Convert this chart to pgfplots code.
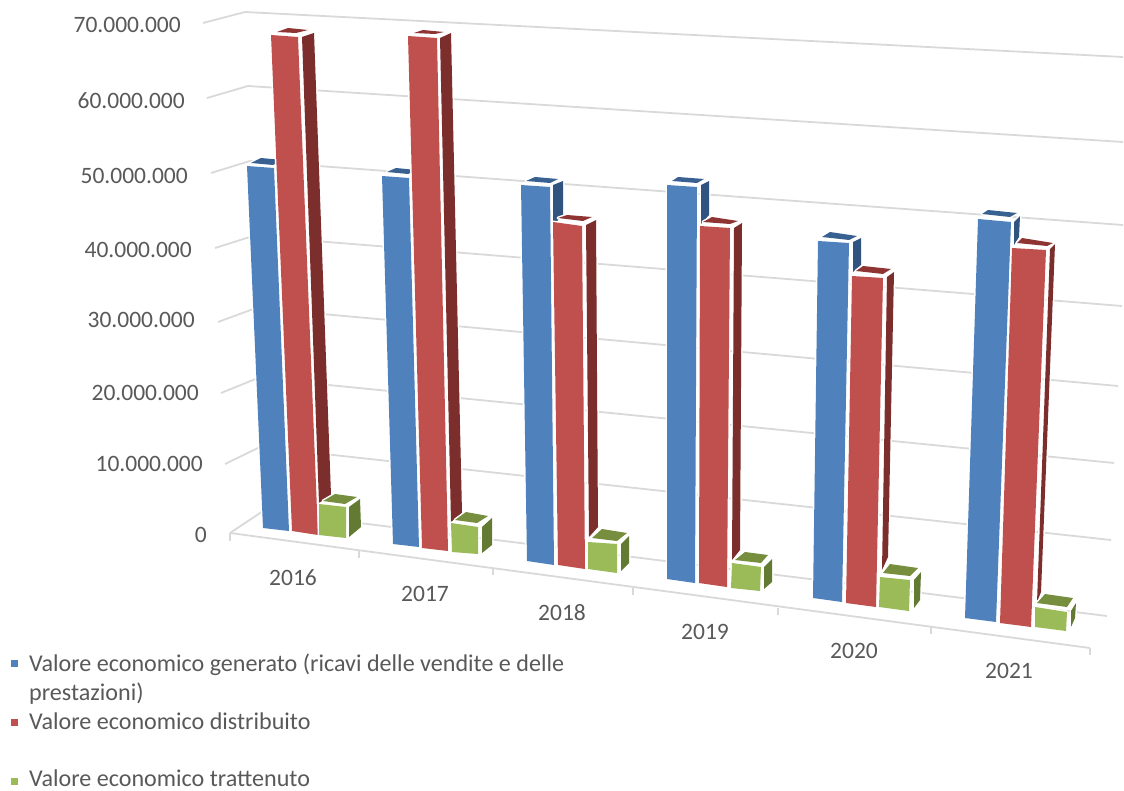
\documentclass[border=0pt]{standalone}
\usepackage{pgfplots}
\pgfplotsset{compat=1.18}
\usepackage{fontspec}
\setmainfont{Carlito}
\definecolor{grid}{HTML}{D9D9D9}
\definecolor{txt}{HTML}{595959}
\definecolor{bF}{HTML}{4F81BD}\definecolor{bT}{HTML}{386192}\definecolor{bS}{HTML}{30547F}
\definecolor{rF}{HTML}{C0504D}\definecolor{rT}{HTML}{8E3533}\definecolor{rS}{HTML}{7C2E2C}
\definecolor{gF}{HTML}{9BBB59}\definecolor{gT}{HTML}{768E3E}\definecolor{gS}{HTML}{637A33}
\newcommand{\tf}{\fontsize{23.5}{28}\selectfont}
\newcommand{\lf}{\fontsize{24.1}{28}\selectfont}
\newcommand{\face}[2]{\addplot[fill=white,draw=white,line width=3pt,line join=round] coordinates {#2} --cycle;
  \addplot[fill=#1,draw=none] coordinates {#2} --cycle;}
\newcommand{\gl}[1]{\addplot[draw=grid,line width=1.8pt] coordinates {#1};}
\newcommand{\ytl}[3]{\node[anchor=base east,text=txt,inner sep=0pt] at (axis cs:#1,#2) {\tf #3};}
\newcommand{\xtl}[3]{\node[anchor=base,text=txt,inner sep=0pt] at (axis cs:#1,#2) {\tf #3};}
\newcommand{\lgt}[2]{\node[anchor=base west,text=txt,inner sep=0pt] at (axis cs:29,#1) {\lf #2};}
\begin{document}
\begin{tikzpicture}
\begin{axis}[hide axis,scale only axis,width=1124pt,height=791pt,
  xmin=0,xmax=1124,ymin=0,ymax=791,y dir=reverse,clip=false]
% invisible corners fixing the extent of the picture
\addplot[draw=none,line width=0pt] coordinates {(0,0)(1124,791)};
% gridlines on the walls, 70.000.000 down to 0
\gl{(203,23)(245,12)(1123,57)}
\gl{(207,98)(248,86)(1123,142)}
\gl{(211,173)(250,161)(1123,225)}
\gl{(215,248)(253,236)(1122,306)}
\gl{(218,322)(256,308)(1118,386)}
\gl{(221,393)(258,378)(1114,463)}
\gl{(225,464)(260,447)(1111,540)}
\gl{(230,533)(263,511)(1107,616)}
% floor front edge and ticks
\gl{(230,533)(1090,648)}
\gl{(230,533)(230,541)}
\gl{(359,551)(359,558)}
\gl{(493,568)(493,575)}
\gl{(633,588)(633,595)}
\gl{(778,608)(778,615)}
\gl{(931,627)(931,634)}
\gl{(1090,648)(1090,655)}
% 2016
\face{bT}{(251,163)(261,158)(282,160)(273,165)}
\face{bF}{(247,166)(274,168)(289,531)(263,528)}
\face{rS}{(302,37)(314,33)(331,495)(319,503)}
\face{rT}{(277,32)(288,28)(308,30)(296,33)}
\face{rF}{(271,35)(298,37)(318,535)(292,531)}
\face{gS}{(349,507)(360,499)(361,527)(349,537)}
\face{gT}{(323,501)(335,494)(357,497)(345,504)}
\face{gF}{(319,504)(346,507)(346,538)(319,535)}
% 2017
\face{bT}{(387,172)(396,168)(416,170)(408,174)}
\face{bF}{(382,176)(409,178)(419,547)(393,544)}
\face{rS}{(440,38)(451,33)(462,513)(451,522)}
\face{rT}{(414,33)(423,30)(444,32)(435,34)}
\face{rF}{(408,36)(437,38)(448,551)(422,548)}
\face{gS}{(482,527)(492,518)(492,545)(482,553)}
\face{gT}{(455,520)(466,512)(488,516)(477,523)}
\face{gF}{(451,523)(478,527)(478,554)(452,552)}
% 2018
\face{bS}{(553,185)(563,181)(563,215)(553,225)}
\face{bT}{(526,181)(535,177)(558,179)(550,183)}
\face{bF}{(521,185)(550,187)(554,565)(527,561)}
\face{rS}{(586,225)(596,220)(598,527)(589,537)}
\face{rT}{(558,218)(567,215)(592,217)(583,221)}
\face{rF}{(553,222)(582,226)(585,569)(558,565)}
\face{gS}{(621,544)(629,536)(629,563)(621,571)}
\face{gT}{(592,538)(602,529)(627,533)(617,541)}
\face{gF}{(588,542)(617,544)(617,573)(588,569)}
% 2019
\face{bS}{(701,185)(709,181)(709,215)(701,224)}
\face{bT}{(672,181)(678,177)(704,179)(697,183)}
\face{bF}{(667,185)(697,187)(695,583)(667,579)}
\face{rS}{(734,228)(742,223)(740,550)(732,560)}
\face{rT}{(703,222)(712,217)(738,221)(730,224)}
\face{rF}{(700,226)(730,228)(727,587)(699,583)}
\face{gS}{(764,567)(772,559)(772,582)(764,589)}
\face{gT}{(735,560)(745,552)(768,555)(761,563)}
\face{gF}{(732,563)(761,567)(760,591)(731,588)}
% 2020
\face{bS}{(853,242)(861,238)(861,265)(853,272)}
\face{bT}{(822,237)(830,232)(857,236)(849,240)}
\face{bF}{(818,241)(849,243)(842,602)(813,598)}
\face{rS}{(887,277)(894,272)(888,557)(882,570)}
\face{rT}{(856,271)(863,266)(891,269)(883,274)}
\face{rF}{(852,276)(883,278)(876,607)(846,603)}
\face{gS}{(914,580)(921,572)(920,600)(914,608)}
\face{gT}{(883,573)(890,564)(918,568)(910,576)}
\face{gF}{(880,577)(910,580)(909,611)(879,607)}
% 2021
\face{bS}{(1014,222)(1020,216)(1019,237)(1014,245)}
\face{bT}{(982,214)(988,210)(1017,213)(1010,217)}
\face{bF}{(978,219)(1011,222)(996,622)(965,618)}
\face{rS}{(1050,249)(1055,244)(1041,592)(1037,602)}
\face{rT}{(1017,243)(1022,238)(1053,243)(1047,246)}
\face{rF}{(1012,248)(1046,250)(1031,627)(1000,623)}
\face{gS}{(1071,611)(1076,603)(1075,618)(1071,627)}
\face{gT}{(1037,603)(1045,594)(1073,598)(1067,607)}
\face{gF}{(1035,607)(1067,612)(1066,631)(1035,627)}
% legend keys
\addplot[only marks,mark=square*,mark size=3.2pt,color=bF] coordinates {(14,663)};
\addplot[only marks,mark=square*,mark size=3.2pt,color=rF] coordinates {(14,722)};
\addplot[only marks,mark=square*,mark size=3.2pt,color=gF] coordinates {(14,781)};
% texts
\ytl{181}{33}{70.000.000}
\ytl{185}{109}{60.000.000}
\ytl{188}{184}{50.000.000}
\ytl{192}{258}{40.000.000}
\ytl{195}{328}{30.000.000}
\ytl{199}{400}{20.000.000}
\ytl{203}{471}{10.000.000}
\ytl{207}{542}{0}
\xtl{293}{585}{2016}
\xtl{425}{601}{2017}
\xtl{562}{620}{2018}
\xtl{705}{639}{2019}
\xtl{854}{658}{2020}
\xtl{1009}{678}{2021}
\lgt{671}{Valore economico generato (ricavi delle vendite e delle}
\lgt{700}{prestazioni)}
\lgt{729}{Valore economico distribuito}
\lgt{786}{Valore economico trattenuto}
\end{axis}
\end{tikzpicture}
\end{document}
